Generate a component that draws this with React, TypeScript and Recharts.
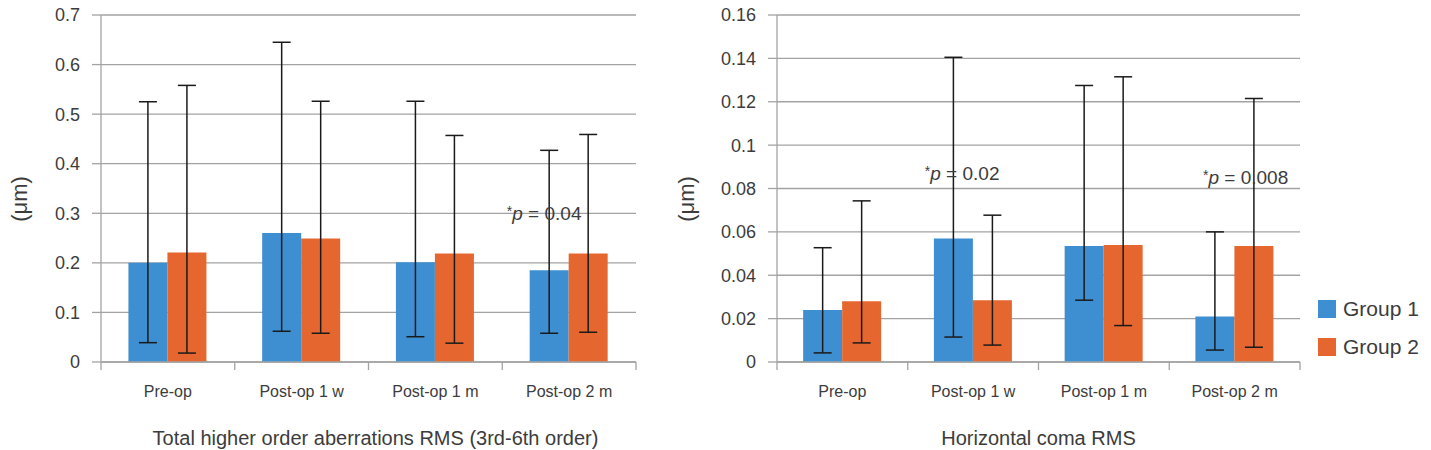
import {
  Bar,
  BarChart,
  CartesianGrid,
  ErrorBar,
  Label,
  ReferenceDot,
  XAxis,
  YAxis,
} from "recharts";

const categories = ["Pre-op", "Post-op 1 w", "Post-op 1 m", "Post-op 2 m"];
const groupNames = ["Group 1", "Group 2"];

// Total HOA RMS: means and error bar ends (µm)
const hoaGroup1 = [0.2, 0.26, 0.201, 0.185];
const hoaGroup2 = [0.221, 0.249, 0.219, 0.219];
const hoaGroup1Low = [0.039, 0.062, 0.051, 0.058];
const hoaGroup1High = [0.525, 0.645, 0.526, 0.427];
const hoaGroup2Low = [0.018, 0.058, 0.038, 0.06];
const hoaGroup2High = [0.558, 0.526, 0.457, 0.459];
const hoaTicks = [0, 0.1, 0.2, 0.3, 0.4, 0.5, 0.6, 0.7];

// Horizontal coma RMS
const comaGroup1 = [0.024, 0.057, 0.0535, 0.021];
const comaGroup2 = [0.028, 0.0285, 0.054, 0.0535];
const comaGroup1Low = [0.0042, 0.0115, 0.0285, 0.0055];
const comaGroup1High = [0.0527, 0.1405, 0.1275, 0.06];
const comaGroup2Low = [0.0088, 0.0078, 0.0168, 0.0068];
const comaGroup2High = [0.0743, 0.0677, 0.1315, 0.1215];
const comaTicks = [0, 0.02, 0.04, 0.06, 0.08, 0.1, 0.12, 0.14, 0.16];

const BLUE = "#3d8fd1";
const ORANGE = "#e5672f";
const GRID = "#a3a3a3";
const TEXT = "#3c3c3c";
const FONT = "'Liberation Sans', Arial, sans-serif";

const buildRows = (
  g1: number[],
  g2: number[],
  g1Low: number[],
  g1High: number[],
  g2Low: number[],
  g2High: number[]
) =>
  categories.map((name, i) => ({
    name,
    g1: g1[i],
    g2: g2[i],
    g1Err: [g1[i] - g1Low[i], g1High[i] - g1[i]],
    g2Err: [g2[i] - g2Low[i], g2High[i] - g2[i]],
  }));

const hoaData = buildRows(hoaGroup1, hoaGroup2, hoaGroup1Low, hoaGroup1High, hoaGroup2Low, hoaGroup2High);
const comaData = buildRows(comaGroup1, comaGroup2, comaGroup1Low, comaGroup1High, comaGroup2Low, comaGroup2High);

const H = 450;
const TOP = 15;
const AXIS_Y = 362;

const CategoryTick = (props: any) => {
  const { x, payload, index, band } = props;
  return (
    <g>
      <line x1={x - band / 2} y1={AXIS_Y} x2={x - band / 2} y2={AXIS_Y + 8} stroke={GRID} strokeWidth={1.3} />
      {index === categories.length - 1 && (
        <line x1={x + band / 2} y1={AXIS_Y} x2={x + band / 2} y2={AXIS_Y + 8} stroke={GRID} strokeWidth={1.3} />
      )}
      <text x={x} y={AXIS_Y + 35} textAnchor="middle" fontSize={16} fill={TEXT} fontFamily={FONT}>
        {payload.value}
      </text>
    </g>
  );
};

const pLabel = (text: string, dx: number) => (props: any) => {
  const { viewBox } = props;
  const cx = viewBox.x + viewBox.width / 2 + dx;
  const cy = viewBox.y + viewBox.height / 2;
  return (
    <text x={cx} y={cy + 7} textAnchor="middle" fontSize={19} fill={TEXT} fontFamily={FONT}>
      <tspan fontSize={14} dy={-4}>*</tspan>
      <tspan fontStyle="italic" dy={4}>p</tspan>
      <tspan>{` = ${text}`}</tspan>
    </text>
  );
};

const yLabel = (cx: number) => () => (
  <text
    transform={`translate(${cx},199) rotate(-90)`}
    textAnchor="middle"
    dominantBaseline="central"
    fontSize={22}
    fill={TEXT}
    fontFamily={FONT}
  >
    (μm)
  </text>
);

type PanelProps = {
  data: any[];
  width: number;
  axisWidth: number;
  right: number;
  ticks: number[];
  max: number;
  title: string;
  titleDx: number;
  labelX: number;
  gap: string;
  notes: { cat: string; y: number; text: string; dx: number }[];
};

const Panel = ({ data, width, axisWidth, right, ticks, max, title, titleDx, labelX, gap, notes }: PanelProps) => {
  const band = (width - axisWidth - right) / categories.length;
  return (
    <BarChart
      width={width}
      height={H}
      data={data}
      margin={{ top: TOP, right, bottom: 0, left: 0 }}
      barGap={0}
      barCategoryGap={gap}
    >
      <CartesianGrid vertical={false} stroke={GRID} strokeWidth={1.3} />
      <XAxis
        dataKey="name"
        height={H - AXIS_Y}
        axisLine={{ stroke: GRID, strokeWidth: 1.3 }}
        tickLine={false}
        interval={0}
        tick={<CategoryTick band={band} />}
      >
        <Label value={title} position="insideBottom" offset={5} dx={titleDx} fontSize={20} fill={TEXT} fontFamily={FONT} />
      </XAxis>
      <YAxis
        width={axisWidth}
        domain={[0, max]}
        ticks={ticks}
        interval={0}
        tickSize={9}
        tickMargin={12}
        axisLine={{ stroke: GRID, strokeWidth: 1.3 }}
        tickLine={{ stroke: GRID, strokeWidth: 1.3 }}
        tick={{ fontSize: 18, fill: TEXT, fontFamily: FONT }}
        label={{ content: yLabel(labelX) } as any}
      />
      <Bar dataKey="g1" name={groupNames[0]} fill={BLUE} isAnimationActive={false}>
        <ErrorBar dataKey="g1Err" width={9} stroke="#1a1a1a" strokeWidth={1.5} />
      </Bar>
      <Bar dataKey="g2" name={groupNames[1]} fill={ORANGE} isAnimationActive={false}>
        <ErrorBar dataKey="g2Err" width={9} stroke="#1a1a1a" strokeWidth={1.5} />
      </Bar>
      {notes.map((n) => (
        <ReferenceDot key={n.text} x={n.cat} y={n.y} r={0} stroke="none" fill="none" label={{ content: pLabel(n.text, n.dx) } as any} />
      ))}
    </BarChart>
  );
};

export default function App() {
  return (
    <div style={{ position: "absolute", left: 0, top: 0, width: 1431, height: H, background: "#fff", fontFamily: FONT }}>
      <div style={{ position: "absolute", left: 0, top: 0 }}>
        <Panel
          data={hoaData}
          width={660}
          axisWidth={101}
          right={24}
          ticks={hoaTicks}
          max={0.7}
          title="Total higher order aberrations RMS (3rd-6th order)"
          titleDx={7}
          labelX={19}
          gap="20.5%"
          notes={[{ cat: "Post-op 2 m", y: 0.3, text: "0.04", dx: -25 }]}
        />
      </div>
      <div style={{ position: "absolute", left: 660, top: 0 }}>
        <Panel
          data={comaData}
          width={771}
          axisWidth={117}
          right={131}
          ticks={comaTicks}
          max={0.16}
          title="Horizontal coma RMS"
          titleDx={0}
          labelX={26}
          gap="20%"
          notes={[
            { cat: "Post-op 1 w", y: 0.0873, text: "0.02", dx: -11 },
            { cat: "Post-op 2 m", y: 0.0855, text: "0.008", dx: 11 },
          ]}
        />
      </div>
      <div style={{ position: "absolute", left: 1318, top: 290, color: TEXT, fontSize: 21 }}>
        {groupNames.map((g, i) => (
          <div key={g} style={{ display: "flex", alignItems: "center", height: 38 }}>
            <span style={{ width: 18, height: 18, background: i === 0 ? BLUE : ORANGE, marginRight: 7 }} />
            {g}
          </div>
        ))}
      </div>
    </div>
  );
}
